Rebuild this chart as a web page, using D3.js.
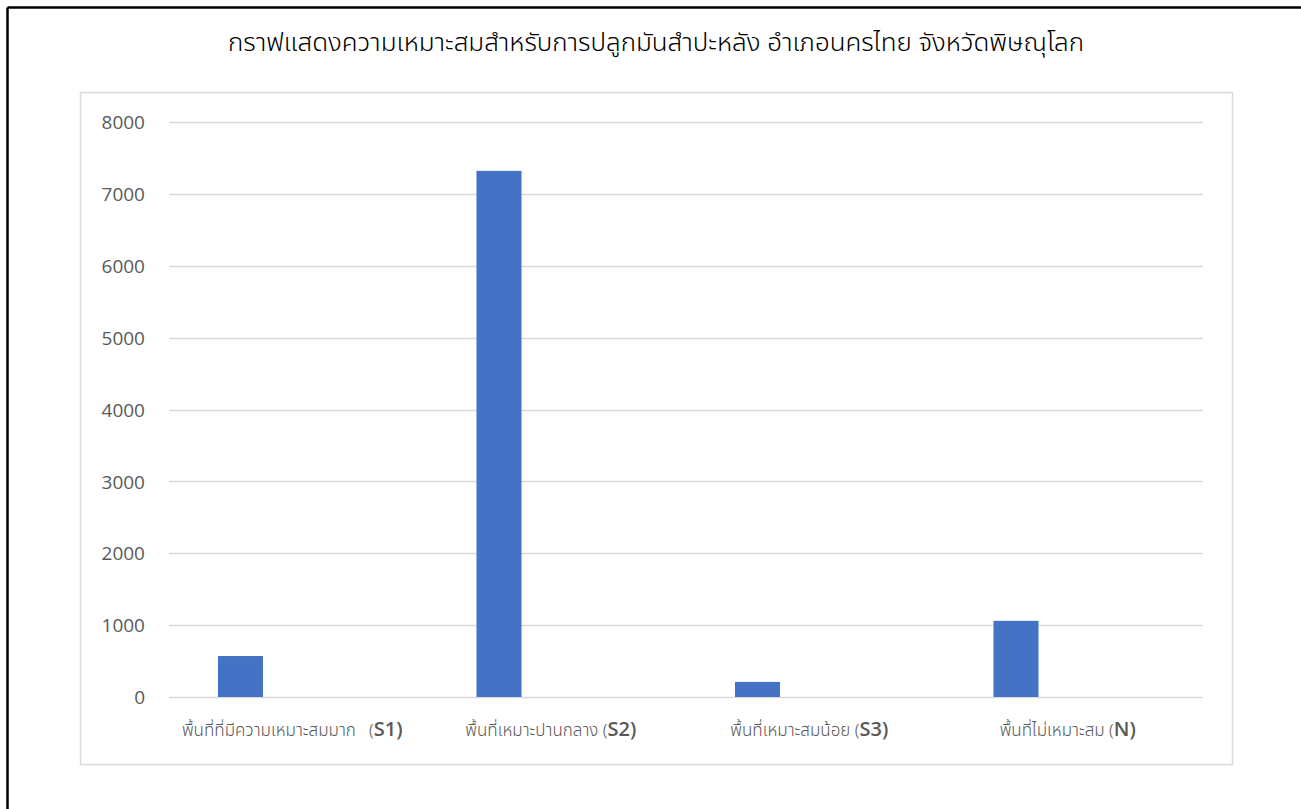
<!DOCTYPE html>
<html>
<head>
<meta charset="utf-8">
<script src="https://cdn.jsdelivr.net/npm/d3@7"></script>
<style>
  html, body { margin: 0; padding: 0; background: #fff; }
  svg { display: block; }
</style>
</head>
<body>
<svg id="chart" width="1301" height="809"></svg>
<script>
// Cassava suitability areas, Nakhon Thai district, Phitsanulok
const titleText = "กราฟแสดงความเหมาะสมสำหรับการปลูกมันสำปะหลัง อำเภอนครไทย จังหวัดพิษณุโลก";
const categoryThai = ["พื้นที่ที่มีความเหมาะสมมาก   ", "พื้นที่เหมาะปานกลาง ", "พื้นที่เหมาะสมน้อย ", "พื้นที่ไม่เหมาะสม "];
const categoryCode = ["S1", "S2", "S3", "N"];
const areaValues = [570, 7320, 210, 1060];
const yTicks = [0, 1000, 2000, 3000, 4000, 5000, 6000, 7000, 8000];
// two series slots per category; only the first carries data
const seriesSlots = ["area", "spare"];

const svg = d3.select("#chart");
const latin = "'Open Sans', 'Noto Sans', sans-serif";
const thai = "'Noto Sans Thai', 'Noto Sans', sans-serif";

// outer frame (top and left rules)
svg.append("line").attr("x1", 7.5).attr("x2", 1301).attr("y1", 7.5).attr("y2", 7.5)
  .attr("stroke", "#000").attr("stroke-width", 2.5);
svg.append("line").attr("x1", 7.5).attr("x2", 7.5).attr("y1", 7.5).attr("y2", 809)
  .attr("stroke", "#000").attr("stroke-width", 2.5);

// chart area border
svg.append("rect").attr("x", 80.5).attr("y", 92.5).attr("width", 1152).attr("height", 672)
  .attr("fill", "#fff").attr("stroke", "#d9d9d9").attr("stroke-width", 1.5);

// title
svg.append("text")
  .attr("x", 656).attr("y", 51)
  .attr("text-anchor", "middle")
  .attr("font-family", thai)
  .attr("font-size", 24)
  .attr("font-weight", 300)
  .attr("fill", "#000")
  .attr("textLength", 856)
  .attr("lengthAdjust", "spacingAndGlyphs")
  .text(titleText);

const plot = { left: 169, right: 1203, top: 122, bottom: 697 };

const x = d3.scaleBand().domain(categoryCode).range([plot.left, plot.right]).padding(0);
const xs = d3.scaleBand().domain(seriesSlots).range([0, x.bandwidth()])
  .paddingInner(0.61).paddingOuter(0.424);
const y = d3.scaleLinear().domain([0, 8000]).range([plot.bottom, plot.top]);

// gridlines
svg.append("g").selectAll("line").data(yTicks).join("line")
  .attr("x1", plot.left).attr("x2", plot.right)
  .attr("y1", d => Math.round(y(d)) + 0.5).attr("y2", d => Math.round(y(d)) + 0.5)
  .attr("stroke", "#d9d9d9").attr("stroke-width", 1.3);

// y axis labels
const yAxis = d3.axisLeft(y).tickValues(yTicks).tickSize(0).tickPadding(0).tickFormat(d3.format("d"));
const gy = svg.append("g").attr("transform", "translate(145,0)").call(yAxis);
gy.select(".domain").remove();
gy.selectAll("text")
  .attr("font-family", latin).attr("font-size", 19).attr("fill", "#595959")
  .attr("dy", "0.35em");

// bars
svg.append("g").selectAll("rect").data(areaValues).join("rect")
  .attr("x", (d, i) => x(categoryCode[i]) + xs("area"))
  .attr("width", xs.bandwidth())
  .attr("y", d => y(d))
  .attr("height", d => y(0) - y(d))
  .attr("fill", "#4472c4");

// category labels
const lab = svg.append("g").selectAll("text").data(categoryCode).join("text")
  .attr("x", d => x(d) + x.bandwidth() / 2 - 6)
  .attr("y", 736)
  .attr("text-anchor", "middle")
  .attr("fill", "#595959")
  .attr("xml:space", "preserve");
lab.append("tspan")
  .attr("font-family", thai)
  .attr("font-size", 17)
  .attr("font-weight", 300)
  .text((d, i) => categoryThai[i] + "(");
lab.append("tspan")
  .attr("font-family", latin)
  .attr("font-size", 20)
  .attr("font-weight", 600)
  .text(d => d + ")");
</script>
</body>
</html>
